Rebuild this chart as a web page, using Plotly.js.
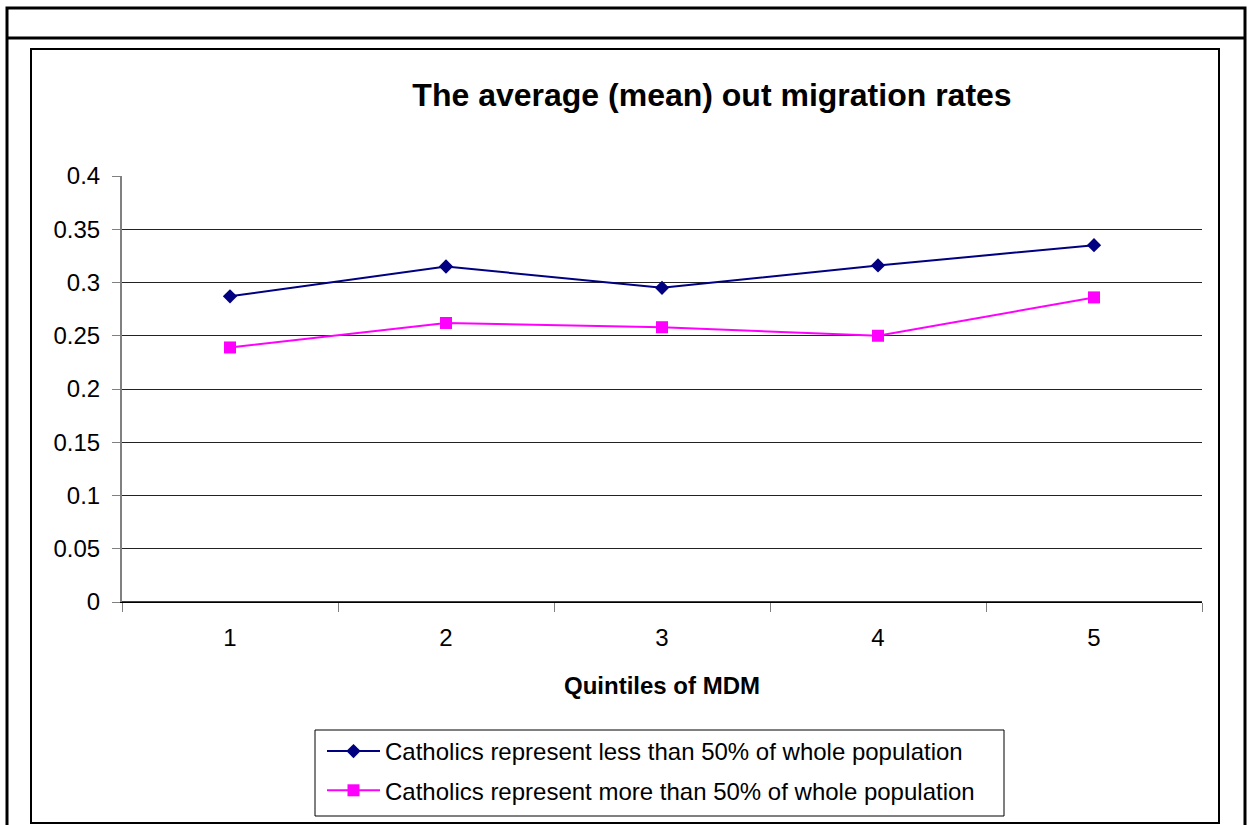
<!DOCTYPE html>
<html>
<head>
<meta charset="utf-8">
<script src="https://cdn.plot.ly/plotly-3.0.1.min.js"></script>
<style>
html,body{margin:0;padding:0;background:#fff;}
#chart{width:1248px;height:825px;}
</style>
</head>
<body>
<div id="chart"></div>
<script>
// ---- data ----
const quintiles = [1, 2, 3, 4, 5];
const tickLabels = ["1", "2", "3", "4", "5"];
const lessThan50 = [0.287, 0.315, 0.295, 0.316, 0.335];
const moreThan50 = [0.239, 0.262, 0.258, 0.250, 0.286];
const seriesNames = [
  "Catholics represent less than 50% of whole population",
  "Catholics represent more than 50% of whole population"
];
const chartTitle = "The average (mean) out migration rates";
const xTitle = "Quintiles of MDM";

// ---- layout geometry (pixels) ----
const W = 1248, H = 825;
const L = 122, R = 1202, T = 176, B = 602;
const px = x => (x - L) / (R - L);
const py = y => (B - y) / (B - T);
const FONT = "Liberation Sans, Arial, sans-serif";

const traces = [
  {
    x: quintiles, y: lessThan50, name: seriesNames[0], type: "scatter", mode: "lines+markers",
    line: {color: "#000080", width: 2},
    marker: {symbol: "diamond", size: 11, color: "#000080"},
    legendgroup: "a"
  },
  {
    x: quintiles, y: moreThan50, name: seriesNames[1], type: "scatter", mode: "lines+markers",
    line: {color: "#FF00FF", width: 2},
    marker: {symbol: "square", size: 12, color: "#FF00FF"},
    legendgroup: "b"
  }
];

const layout = {
  width: W, height: H,
  margin: {l: L, r: W - R, t: T, b: H - B, pad: 0, autoexpand: false},
  paper_bgcolor: "#fff", plot_bgcolor: "#fff",
  font: {family: FONT, size: 24, color: "#000"},
  title: {
    text: "<b>" + chartTitle + "</b>",
    font: {family: FONT, size: 32, color: "#000"},
    xref: "container", yref: "container",
    x: 712 / W, y: 1 - 95 / H, xanchor: "center", yanchor: "middle"
  },
  showlegend: true,
  legend: {
    x: px(322), y: py(729), xanchor: "left", yanchor: "top",
    bgcolor: "rgba(0,0,0,0)", borderwidth: 0,
    font: {family: FONT, size: 24, color: "#000"},
    itemwidth: 53, traceorder: "grouped", tracegroupgap: 5
  },
  xaxis: {
    type: "linear", range: [0.5, 5.5], automargin: false,
    tickvals: quintiles, ticktext: tickLabels,
    ticks: "", showgrid: false, zeroline: false,
    showline: true, linecolor: "#000", linewidth: 1,
    tickfont: {family: FONT, size: 24},
    ticklabelstandoff: 14,
    minor: {tick0: 0.5, dtick: 1, ticks: "outside", ticklen: 9, tickcolor: "#808080", tickwidth: 1, showgrid: false},
    title: {text: "<b>" + xTitle + "</b>", font: {family: FONT, size: 24}, standoff: 27},
    fixedrange: true
  },
  yaxis: {
    range: [0, 0.4], dtick: 0.05, tick0: 0, automargin: false,
    ticks: "outside", ticklen: 8, tickcolor: "#808080", tickwidth: 1,
    ticklabelstandoff: 7,
    showgrid: true, gridcolor: "#222", gridwidth: 1,
    zeroline: false, showline: true, linecolor: "#808080", linewidth: 2,
    tickfont: {family: FONT, size: 24},
    fixedrange: true
  },
  shapes: [
    // outer frame
    {type: "rect", xref: "paper", yref: "paper", x0: px(7), x1: px(1245), y0: py(8), y1: py(840),
     line: {color: "#000", width: 3}, layer: "above"},
    {type: "line", xref: "paper", yref: "paper", x0: px(7), x1: px(1245), y0: py(38), y1: py(38),
     line: {color: "#000", width: 3}, layer: "above"},
    // chart box
    {type: "rect", xref: "paper", yref: "paper", x0: px(31), x1: px(1219), y0: py(49), y1: py(823),
     line: {color: "#000", width: 2}, layer: "above"},
    // legend box
    {type: "rect", xref: "paper", yref: "paper", x0: px(315), x1: px(1004), y0: py(730), y1: py(816),
     line: {color: "#000", width: 1}, layer: "above"},
    // zero line
    {type: "line", xref: "paper", yref: "y", x0: 0, x1: 1, y0: 0, y1: 0,
     line: {color: "#000", width: 1.5}, layer: "below"}
  ]
};

Plotly.newPlot("chart", traces, layout, {displayModeBar: false, staticPlot: true});
</script>
</body>
</html>
